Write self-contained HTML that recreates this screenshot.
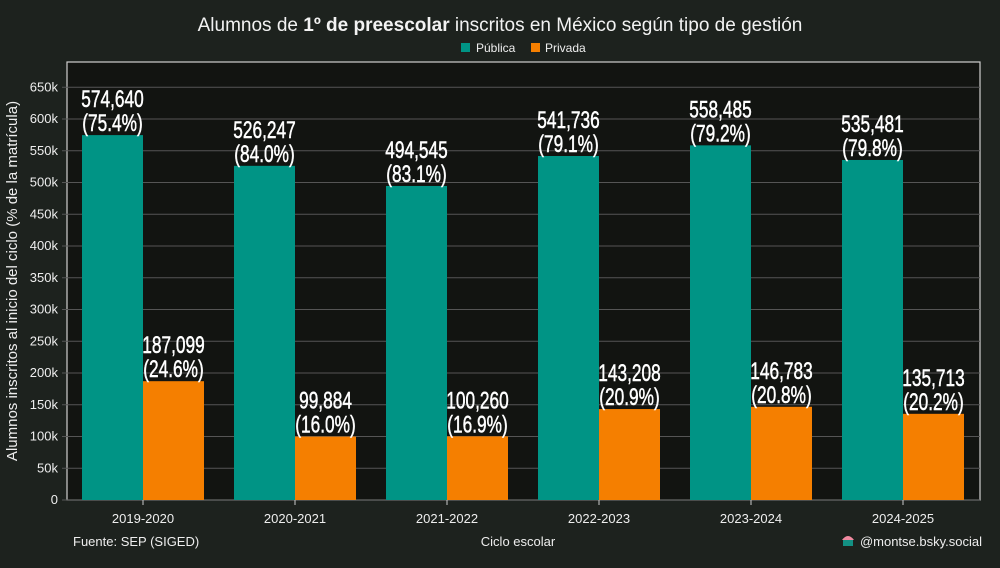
<!DOCTYPE html>
<html><head><meta charset="utf-8"><style>
body{margin:0;background:#1d221e;width:1000px;height:563px;overflow:hidden;font-family:"Liberation Sans",sans-serif;color:#eee}
svg text{font-family:"Liberation Sans",sans-serif}
</style></head><body>
<svg id="c" width="1000" height="563">
<rect width="1000" height="563" fill="#1d221e"/>
<text x="500" y="31" text-anchor="middle" font-size="19" fill="#f2f2f2">Alumnos de <tspan font-weight="bold">1º de preescolar</tspan> inscritos en México según tipo de gestión</text>
<g>
<rect x="461" y="43" width="9" height="9" fill="#009485"/><text x="476" y="52" font-size="12" fill="#eee">Pública</text>
<rect x="531" y="43" width="9" height="9" fill="#f57f00"/><text x="545" y="52" font-size="12" fill="#eee">Privada</text>
</g>
<rect x="67" y="62" width="913" height="438" fill="#121411" stroke="#cfcfcf" stroke-width="1.2"/>
<g id="grid"></g><g id="bars"></g>
<text transform="translate(17,281) rotate(-90)" text-anchor="middle" font-size="15" fill="#eee">Alumnos inscritos al inicio del ciclo (% de la matrícula)</text>
<text x="518" y="546" text-anchor="middle" font-size="13" fill="#eee">Ciclo escolar</text>
<text x="73" y="546" font-size="13" fill="#eee">Fuente: SEP (SIGED)</text>
<g><path d="M842 540 q6 -8 12 0 z" fill="#f08aa0"/><rect x="843" y="540" width="10" height="6" fill="#139083"/></g>
<text x="982" y="546" text-anchor="end" font-size="13" fill="#eee">@montse.bsky.social</text>
</svg>
<script>
const categories=["2019-2020","2020-2021","2021-2022","2022-2023","2023-2024","2024-2025"];
const publica=[574640,526247,494545,541736,558485,535481];
const privada=[187099,99884,100260,143208,146783,135713];
const pubPct=["75.4%","84.0%","83.1%","79.1%","79.2%","79.8%"];
const privPct=["24.6%","16.0%","16.9%","20.9%","20.8%","20.2%"];
const ticks=[0,50000,100000,150000,200000,250000,300000,350000,400000,450000,500000,550000,600000,650000];
const NS="http://www.w3.org/2000/svg";
const y=v=>500-v*381/600000;
const xc=i=>143+i*152;
function mk(t,a,p){const e=document.createElementNS(NS,t);for(const k in a)e.setAttribute(k,a[k]);p.appendChild(e);return e;}
const g=document.getElementById('grid'),b=document.getElementById('bars');
ticks.forEach(t=>{
 const l=mk('line',{x1:62,x2:980,y1:y(t),y2:y(t),stroke:'#555',"stroke-width":1},g);
 
 
 const tx=mk('text',{x:58,y:y(t)+4,"text-anchor":"end","font-size":13,fill:"#eee"},g);
 tx.textContent=t===0?"0":(t/1000)+"k";
 
 
});
function label(x,v,pct,top){
 const t=mk('text',{"text-anchor":"middle","font-size":24,fill:"#fff",stroke:"#fff","stroke-width":0.5,transform:`translate(${x},0) scale(0.72,1)`},b);
 
 
 const a=mk('tspan',{x:0,y:top-28},t);a.textContent=v.toLocaleString('en-US');
 const c=mk('tspan',{x:0,y:top-4},t);c.textContent="("+pct+")";
}
categories.forEach((c,i)=>{
 const x=xc(i);
 const r1=mk('rect',{x:x-61,y:y(publica[i]),width:61,height:500-y(publica[i]),fill:'#009485'},b);
 
 
 const r2=mk('rect',{x:x,y:y(privada[i]),width:61,height:500-y(privada[i]),fill:'#f57f00'},b);
 
 
 label(x-30.5,publica[i],pubPct[i],y(publica[i]));
 label(x+30.5,privada[i],privPct[i],y(privada[i]));
 mk('line',{x1:x,x2:x,y1:500,y2:505,stroke:'#ccc'},b);
 const t=mk('text',{x:x,y:523,"text-anchor":"middle","font-size":13,fill:"#eee"},b);
 t.textContent=c;
 
 
});
</script>
</body></html>
